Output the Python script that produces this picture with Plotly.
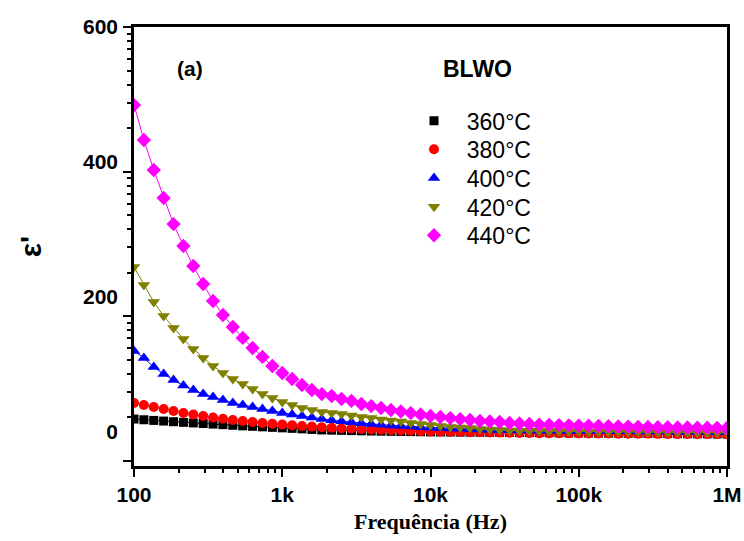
import numpy as np
import plotly.graph_objects as go

# Frequency points: 61 log-spaced points, 100 Hz .. 1 MHz (15 per decade)
freq = [100 * 10 ** (i / 15) for i in range(61)]

eps_360 = [57.4, 56.4, 55.5, 54.6, 53.7, 52.8, 52.0, 51.2, 50.4, 49.6,
           48.8, 48.0, 47.3, 46.6, 45.9, 45.2, 44.5, 43.8, 43.0, 42.3,
           42.0, 41.7, 41.4, 41.1, 40.8, 40.6, 40.4, 40.2, 40.0, 39.8,
           39.6, 39.5, 39.4, 39.3, 39.2, 39.1, 39.0, 38.9, 38.8, 38.7,
           38.6, 38.5, 38.4, 38.3, 38.2, 38.1, 38.0, 37.9, 37.8, 37.7,
           37.6, 37.5, 37.4, 37.3, 37.2, 37.1, 37.0, 36.9, 36.8, 36.7, 36.6]
eps_380 = [79.6, 76.8, 74.0, 71.3, 68.5, 65.7, 63.7, 61.6, 59.5, 57.9,
           56.1, 54.7, 53.3, 51.9, 50.8, 49.7, 48.7, 47.8, 46.9, 46.1,
           45.4, 44.7, 44.2, 43.6, 43.0, 42.5, 41.9, 41.5, 41.1, 40.7,
           40.3, 40.0, 39.7, 39.4, 39.2, 39.0, 38.8, 38.6, 38.4, 38.2,
           38.0, 37.9, 37.8, 37.7, 37.6, 37.5, 37.4, 37.3, 37.3, 37.2,
           37.1, 37.0, 37.0, 36.9, 36.8, 36.8, 36.7, 36.7, 36.6, 36.6, 36.5]
eps_400 = [151.6, 141.9, 129.4, 119.7, 111.4, 103.8, 97.6, 92.0, 87.9, 83.7,
           79.6, 76.8, 74.0, 71.3, 68.5, 65.7, 63.7, 61.6, 59.5, 57.4,
           55.8, 54.3, 52.9, 51.6, 50.5, 49.6, 48.6, 47.8, 46.9, 46.2,
           45.5, 45.0, 44.4, 43.9, 43.5, 43.0, 42.6, 42.2, 41.9, 41.7,
           41.4, 41.3, 41.2, 41.1, 41.0, 40.9, 40.8, 40.7, 40.6, 40.5,
           40.4, 40.3, 40.2, 40.1, 40.0, 39.9, 39.8, 39.7, 39.6, 39.5, 39.4]
eps_420 = [267.8, 242.9, 219.4, 200.0, 183.4, 168.2, 154.3, 141.9, 130.8, 121.1,
           112.8, 105.9, 99.0, 92.0, 86.5, 81.0, 76.8, 72.7, 69.9, 67.1,
           65.7, 64.4, 62.3, 60.2, 58.8, 56.7, 55.4, 54.0, 51.9, 50.5,
           49.1, 47.8, 46.4, 45.7, 45.0, 43.6, 42.9, 42.2, 41.5, 41.1,
           40.8, 40.7, 40.5, 40.4, 40.2, 40.1, 39.9, 39.8, 39.6, 39.5,
           39.4, 39.3, 39.1, 39.0, 38.9, 38.8, 38.7, 38.6, 38.5, 38.4, 38.3]
eps_440 = [492.0, 443.6, 402.1, 363.3, 327.3, 296.9, 269.2, 244.3, 220.8, 201.4,
           184.8, 169.6, 155.7, 143.3, 130.8, 121.1, 112.8, 104.5, 97.6, 92.0,
           89.3, 85.1, 82.4, 78.2, 75.4, 72.7, 69.9, 67.8, 65.7, 63.7,
           61.6, 60.2, 58.8, 57.4, 56.1, 54.7, 54.0, 53.3, 51.9, 51.2,
           50.5, 49.8, 49.4, 49.1, 48.7, 48.4, 48.2, 47.8, 47.5, 47.2,
           46.9, 46.6, 46.4, 46.2, 46.1, 45.8, 45.7, 45.5, 45.4, 45.3, 45.0]

series_names = ["360°C", "380°C", "400°C", "420°C", "440°C"]
series_vals = [eps_360, eps_380, eps_400, eps_420, eps_440]
colors = ["#000000", "#ff0000", "#0000ff", "#808000", "#ff00ff"]
symbols = ["square", "circle", "triangle-up", "triangle-down", "diamond"]
sizes = [9, 10, 11, 11, 11]

x_tickvals = [1e2, 1e3, 1e4, 1e5, 1e6]
x_ticktext = ["100", "1k", "10k", "100k", "1M"]
y_ticks = [0, 200, 400, 600]

NB = "\u00a0"
PLOT_L, PLOT_T, PLOT_W, PLOT_H = 134, 27, 593, 439
legend_rows_px = [120.7, 149.3, 178.0, 206.7, 235.3]
legend_ids = ["legend", "legend2", "legend3", "legend4", "legend5"]

fig = go.Figure()
for name, vals, c, s, sz, lg in zip(series_names, series_vals, colors, symbols,
                                    sizes, legend_ids):
    fig.add_trace(go.Scatter(
        x=freq, y=vals, mode="lines", line=dict(color=c, width=1),
        showlegend=False, hoverinfo="skip"))
    fig.add_trace(go.Scatter(
        x=freq, y=vals, name=NB * 2 + name, mode="markers", legend=lg,
        marker=dict(color=c, symbol=s, size=sz, line=dict(width=0))))

x_minor = [k * 10 ** n for n in range(2, 6) for k in range(2, 10)]
y_minor = [a + 200 * np.log10(k) for a in (0, 200, 400) for k in range(2, 10)]

tickfont = dict(family="Liberation Sans, Arial", size=21, color="black", weight="bold")

legend_layout = {}
for lg, yc in zip(legend_ids, legend_rows_px):
    legend_layout[lg] = dict(
        x=(414 - PLOT_L) / PLOT_W, y=(PLOT_T + PLOT_H - yc) / PLOT_H,
        xanchor="left", yanchor="middle",
        font=dict(family="Liberation Sans, Arial", size=23, color="black"),
        bgcolor="rgba(0,0,0,0)", borderwidth=0)

fig.update_layout(
    width=744, height=541,
    margin=dict(l=PLOT_L, r=744 - PLOT_L - PLOT_W, t=PLOT_T,
                b=541 - PLOT_T - PLOT_H, autoexpand=False),
    plot_bgcolor="white", paper_bgcolor="white",
    showlegend=True,
    **legend_layout,
    xaxis=dict(type="log", range=[2, 6], tickvals=x_tickvals, ticktext=x_ticktext,
               ticks="outside", ticklen=8, tickwidth=2, tickcolor="black",
               showline=True, linewidth=3, linecolor="black", mirror=True,
               showgrid=False, zeroline=False, tickfont=tickfont,
               ticklabelstandoff=0, automargin=False,
               minor=dict(tickvals=x_minor, ticks="outside", ticklen=4,
                          tickwidth=2, tickcolor="black", showgrid=False),
               title=dict(text="Frequência (Hz)", standoff=9,
                          font=dict(family="Liberation Serif, Times New Roman",
                                    size=22, color="black", weight="bold"))),
    yaxis=dict(range=[-7.6, 600], tickvals=y_ticks, showticklabels=False,
               ticks="outside", ticklen=8, tickwidth=2, tickcolor="black",
               showline=True, linewidth=3, linecolor="black", mirror=True,
               showgrid=False, zeroline=False, automargin=False,
               minor=dict(tickvals=y_minor, ticks="outside", ticklen=4,
                          tickwidth=2, tickcolor="black", showgrid=False)),
    yaxis2=dict(overlaying="y", side="left", range=[-50.4, 600],
                tickvals=y_ticks, ticks="", showline=False, showgrid=False,
                zeroline=False, tickfont=tickfont, ticklabelstandoff=15,
                automargin=False,
                title=dict(text="ε'", standoff=32,
                           font=dict(family="Liberation Sans, Arial", size=30,
                                     color="black", weight="bold"))),
)

# invisible trace to activate the label axis
fig.add_trace(go.Scatter(x=[freq[0]], y=[0], yaxis="y2", mode="markers",
                         marker=dict(opacity=0), showlegend=False,
                         hoverinfo="skip"))

fig.add_annotation(text="<b>(a)</b>", xref="paper", yref="paper",
                   x=(190 - PLOT_L) / PLOT_W, y=(PLOT_T + PLOT_H - 68) / PLOT_H,
                   xanchor="center", yanchor="middle", showarrow=False,
                   font=dict(family="Liberation Sans, Arial", size=21, color="black"))
fig.add_annotation(text="<b>BLWO</b>", xref="paper", yref="paper",
                   x=(477 - PLOT_L) / PLOT_W, y=(PLOT_T + PLOT_H - 69) / PLOT_H,
                   xanchor="center", yanchor="middle", showarrow=False,
                   font=dict(family="Liberation Sans, Arial", size=23, color="black"))

fig.write_html(
    "out.html",
    config={"displayModeBar": False},
    post_script="document.body.style.margin='0';document.body.style.overflow='hidden';",
)
